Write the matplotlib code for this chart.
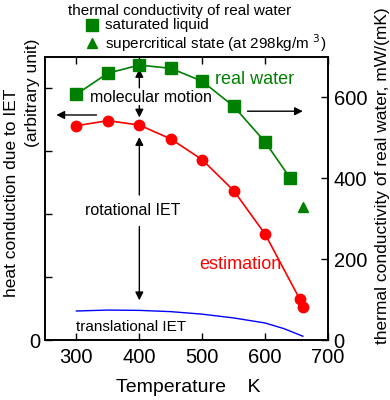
import matplotlib
matplotlib.use("Agg")
import matplotlib.pyplot as plt

plt.rcParams['font.family'] = ['Liberation Sans', 'DejaVu Sans']

# data
temp_sat = [300, 350, 400, 450, 500, 550, 600, 640]
k_sat = [608, 660, 680, 672, 640, 578, 490, 400]
temp_sc = [660]
k_sc = [330]
temp_est = [300, 350, 400, 450, 500, 550, 600, 655, 660]
est = [3.40, 3.48, 3.41, 3.19, 2.86, 2.37, 1.68, 0.65, 0.52]
temp_tr = [300, 350, 400, 450, 500, 550, 600, 630, 660]
trans = [0.46, 0.475, 0.47, 0.45, 0.41, 0.35, 0.27, 0.18, 0.06]
xticks = [300, 400, 500, 600, 700]
rticks = [0, 200, 400, 600]

fig = plt.figure(figsize=(3.9, 4.0), dpi=100)
ax = fig.add_axes([45/390, 60/400, 283/390, 283/400])
ax2 = ax.twinx()

ax.set_xlim(250, 700)
ax.set_ylim(0, 4.49)
ax2.set_ylim(0, 700)

ax.plot(temp_est, est, color='red', lw=1.2, marker='o', ms=7.5, zorder=3)
ax.plot(temp_tr, trans, color='blue', lw=1.0)
ax2.plot(temp_sat, k_sat, color='green', lw=1.2, marker='s', ms=8.5, zorder=3)
ax2.plot(temp_sc, k_sc, color='green', lw=0, marker='^', ms=7.5)

ax.set_xticks(xticks)
ax.set_yticks([0, 1, 2, 3, 4])
ax.set_yticklabels(['0', '', '', '', ''])
ax2.set_yticks(rticks)
for a in (ax, ax2):
    a.tick_params(direction='in', length=5, width=1, labelsize=14.5, pad=3)
    for s in a.spines.values():
        s.set_linewidth(1.2)
ax.tick_params(axis='x', top=True, pad=6)
ax2.tick_params(axis='y', pad=4)

fig.text(188/390, 1 - 387/400, 'Temperature    K', fontsize=14,
         ha='center', va='center')
fig.text(12/390, 1 - 193/400, 'heat conduction due to IET', rotation=90,
         fontsize=12.5, ha='center', va='center')
fig.text(32/390, 1 - 93/400, '(arbitrary unit)', rotation=90,
         fontsize=12.5, ha='center', va='center')
fig.text(383/390, 1 - 176/400, 'thermal conductivity of real water, mW/(mK)',
         rotation=90, fontsize=12.5, ha='center', va='center')

# legend-like header
fig.text(180/390, 1 - 11/400, 'thermal conductivity of real water', fontsize=11,
         ha='center', va='center')
fig.text(105/390, 1 - 25/400, 'saturated liquid', fontsize=11, ha='left', va='center')
fig.text(105/390, 1 - 43/400, r'supercritical state (at 298kg/m $^{3}$)', fontsize=11,
         ha='left', va='center')
fig.lines.append(plt.Line2D([92/390], [1 - 25/400], marker='s', ms=8, color='green',
                            transform=fig.transFigure))
fig.lines.append(plt.Line2D([92/390], [1 - 43/400], marker='^', ms=7, color='green',
                            transform=fig.transFigure))

# annotations
ap = dict(arrowstyle='-|>', color='black', lw=1, mutation_scale=12, shrinkA=0, shrinkB=0)
ax.text(419, 3.85, 'molecular motion', fontsize=11.5, ha='center', va='center')
ax.annotate('', xy=(400, 4.3), xytext=(400, 4.0), arrowprops=ap)
ax.annotate('', xy=(400, 3.53), xytext=(400, 3.72), arrowprops=ap)
ax.text(390, 2.06, 'rotational IET', fontsize=11.5, ha='center', va='center')
ax.annotate('', xy=(400, 3.22), xytext=(400, 2.3), arrowprops=ap)
ax.annotate('', xy=(400, 0.63), xytext=(400, 1.8), arrowprops=ap)
ax.annotate('', xy=(268, 3.57), xytext=(332, 3.57), arrowprops=ap)
ax.annotate('', xy=(660, 3.63), xytext=(572, 3.63), arrowprops=ap)
ax.text(520, 4.13, 'real water', fontsize=13, color='green', ha='left', va='center')
ax.text(495, 1.2, 'estimation', fontsize=13, color='red', ha='left', va='center')
ax.text(300, 0.2, 'translational IET', fontsize=11, ha='left', va='center')

fig.savefig('out.png', dpi=100)
